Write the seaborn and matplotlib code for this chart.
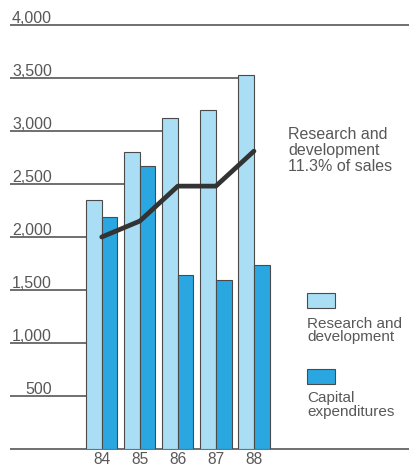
import numpy as np
import pandas as pd
import matplotlib
matplotlib.use("Agg")
import matplotlib.pyplot as plt
from matplotlib.patches import Rectangle
import seaborn as sns

# Data (millions)
years = ["84", "85", "86", "87", "88"]
research = [2350, 2800, 3120, 3200, 3530]
capital = [2190, 2670, 1640, 1590, 1740]
rd_trend = [2000, 2150, 2480, 2480, 2810]
y_ticks = [0, 500, 1000, 1500, 2000, 2500, 3000, 3500, 4000]
y_tick_labels = ["", "500", "1,000", "1,500", "2,000", "2,500", "3,000", "3,500", "4,000"]
series_names = ["Research and development", "Capital expenditures"]

LIGHT = "#a9def4"
DARK = "#2aa7e0"
EDGE = "#4a4a4a"
TEXT = "#585858"
GRID = "#6f6f6f"

sns.set_theme(style="white")
plt.rcParams["font.family"] = ["Liberation Sans", "DejaVu Sans"]

W, H = 410, 466
fig = plt.figure(figsize=(W / 100, H / 100), dpi=100)
ax = fig.add_axes([10 / W, 17 / H, 400 / W, 424 / H])

df = pd.DataFrame({
    "year": years * 2,
    "value": research + capital,
    "series": [series_names[0]] * len(years) + [series_names[1]] * len(years),
})

sns.barplot(data=df, x="year", y="value", hue="series", order=years,
            hue_order=series_names, palette=[LIGHT, DARK], saturation=1,
            width=0.82, edgecolor=EDGE, linewidth=0.8, legend=False,
            ax=ax, zorder=3)

ax.set_xlim(-2.41, 8.1)
ax.set_ylim(0, 4000)

# Horizontal rules: each stops at the first bar that rises through it
bars = sorted([p for p in ax.patches if isinstance(p, Rectangle)], key=lambda p: p.get_x())
x0, x1 = ax.get_xlim()
for t in y_ticks:
    end = x1
    if 0 < t < 4000:
        for p in bars:
            if p.get_height() > t:
                end = p.get_x()
                break
    ax.hlines(t, x0, end, color=GRID, lw=1.4, zorder=1, clip_on=False)

# R&D as share of sales
sns.lineplot(x=np.arange(len(years)), y=rd_trend, color="#333333", lw=3.4,
             ax=ax, zorder=5)

# Y labels sit on top of their rules
for t, lab in zip(y_ticks, y_tick_labels):
    ax.annotate(lab, xy=(0.105, t), xycoords=("axes fraction", "data"),
                xytext=(0, 1.6), textcoords="offset points",
                ha="right", va="baseline", fontsize=11.5, color=TEXT)

ax.set_yticks([])
ax.set_xlabel("")
ax.set_ylabel("")
ax.tick_params(axis="x", length=0, pad=2.5, labelsize=11.2, labelcolor=TEXT)
for s in ax.spines.values():
    s.set_visible(False)

def fx(px):
    return px / W

def fy(py):
    return 1 - py / H

# Multi-line texts are anchored on the baseline of their last line
fig.text(fx(288), fy(171), "Research and\ndevelopment\n11.3% of sales",
         ha="left", va="baseline", fontsize=11.5, color=TEXT, linespacing=1.08)

# Legend: swatch above each label
for (top, base, color, label) in [(293, 341.5, LIGHT, "Research and\ndevelopment"),
                                   (369, 416, DARK, "Capital\nexpenditures")]:
    fig.patches.append(Rectangle((fx(307), fy(top + 15)), 28 / W, 15 / H,
                                 transform=fig.transFigure, facecolor=color,
                                 edgecolor=EDGE, linewidth=0.8))
    fig.text(fx(307), fy(base), label, ha="left", va="baseline",
             fontsize=11, color=TEXT, linespacing=1.0)

fig.savefig("out.png", dpi=100)
